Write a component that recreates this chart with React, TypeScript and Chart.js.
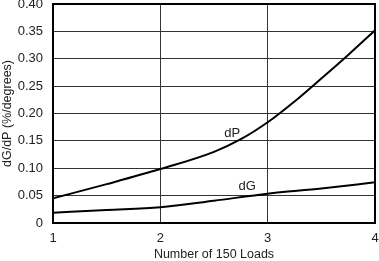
import React, { useEffect, useRef } from "react";
import { Chart, registerables } from "chart.js";

Chart.register(...registerables);

const dPX = [1, 1.5, 2, 2.5, 2.75, 3, 3.25, 3.5, 3.75, 4];
const dPValues = [0.045, 0.071, 0.0985, 0.13, 0.153, 0.184, 0.222, 0.264, 0.307, 0.352];
const dGX = [1, 1.5, 2, 2.5, 3, 3.5, 4];
const dGValues = [0.0188, 0.0237, 0.0287, 0.0407, 0.0535, 0.063, 0.0743];
const yTickLabels = ["0", "0.05", "0.10", "0.15", "0.20", "0.25", "0.30", "0.35", "0.40"];
const xTickLabels = ["1", "2", "3", "4"];
const seriesLabels = ["dP", "dG"];
const labelPositions = [
  { x: 2.67, y: 0.164 },
  { x: 2.81, y: 0.066 },
];

const FONT = "'Liberation Sans', Arial, sans-serif";

const annotationPlugin = {
  id: "annot",
  afterDatasetsDraw(chart: any) {
    const { ctx, chartArea, scales } = chart;
    ctx.save();
    ctx.strokeStyle = "#000";
    ctx.lineWidth = 2;
    ctx.strokeRect(chartArea.left, chartArea.top, chartArea.right - chartArea.left, chartArea.bottom - chartArea.top);
    ctx.fillStyle = "#222";
    ctx.font = `13px ${FONT}`;
    ctx.textAlign = "center";
    ctx.textBaseline = "middle";
    seriesLabels.forEach((t, i) => {
      const p = labelPositions[i];
      ctx.fillText(t, scales.x.getPixelForValue(p.x), scales.y.getPixelForValue(p.y));
    });
    ctx.restore();
  },
};

export default function App() {
  const ref = useRef<HTMLCanvasElement>(null);
  useEffect(() => {
    document.body.style.margin = "0";
    const chart = new Chart(ref.current!, {
      type: "line",
      data: {
        datasets: [
          {
            label: seriesLabels[0],
            data: dPX.map((x, i) => ({ x, y: dPValues[i] })),
            borderColor: "#000",
            borderWidth: 2,
            pointRadius: 0,
            cubicInterpolationMode: "monotone",
          },
          {
            label: seriesLabels[1],
            data: dGX.map((x, i) => ({ x, y: dGValues[i] })),
            borderColor: "#000",
            borderWidth: 2,
            pointRadius: 0,
            cubicInterpolationMode: "monotone",
          },
        ],
      },
      options: {
        animation: false,
        responsive: false,
        devicePixelRatio: 1,
        layout: { padding: { top: 4, right: 4, left: 0, bottom: 0 } },
        plugins: { legend: { display: false }, tooltip: { enabled: false } },
        scales: {
          x: {
            type: "linear",
            min: 1,
            max: 4,
            afterFit: (s: any) => {
              s.height = 38;
              s.paddingLeft = 0;
              s.paddingRight = 0;
            },
            ticks: {
              stepSize: 1,
              padding: 8,
              color: "#222",
              font: { family: FONT, size: 13 },
              maxRotation: 0,
              callback: (v: any, i: number) => xTickLabels[i],
            },
            grid: { color: "#333", lineWidth: 1, drawTicks: false },
            border: { display: false },
            title: {
              display: true,
              text: "Number of 150 Loads",
              color: "#222",
              font: { family: FONT, size: 12.5, lineHeight: 1 },
              padding: { top: 0, bottom: 0 },
            },
          },
          y: {
            min: 0,
            max: 0.4,
            afterFit: (s: any) => {
              s.width = 53;
              s.paddingTop = 0;
              s.paddingBottom = 0;
            },
            ticks: {
              stepSize: 0.05,
              padding: 10,
              color: "#222",
              font: { family: FONT, size: 13 },
              callback: (v: any, i: number) => yTickLabels[i],
            },
            grid: { color: "#333", lineWidth: 1, drawTicks: false },
            border: { display: false },
            title: {
              display: true,
              text: "dG/dP (%/degrees)",
              color: "#222",
              font: { family: FONT, size: 12.5, lineHeight: 1.2 },
              padding: { top: 0, bottom: 0 },
            },
          },
        },
      },
      plugins: [annotationPlugin],
    } as any);
    return () => chart.destroy();
  }, []);
  return (
    <div style={{ position: "absolute", left: 0, top: 0, width: 379, height: 261 }}>
      <canvas ref={ref} width={379} height={261} />
    </div>
  );
}
